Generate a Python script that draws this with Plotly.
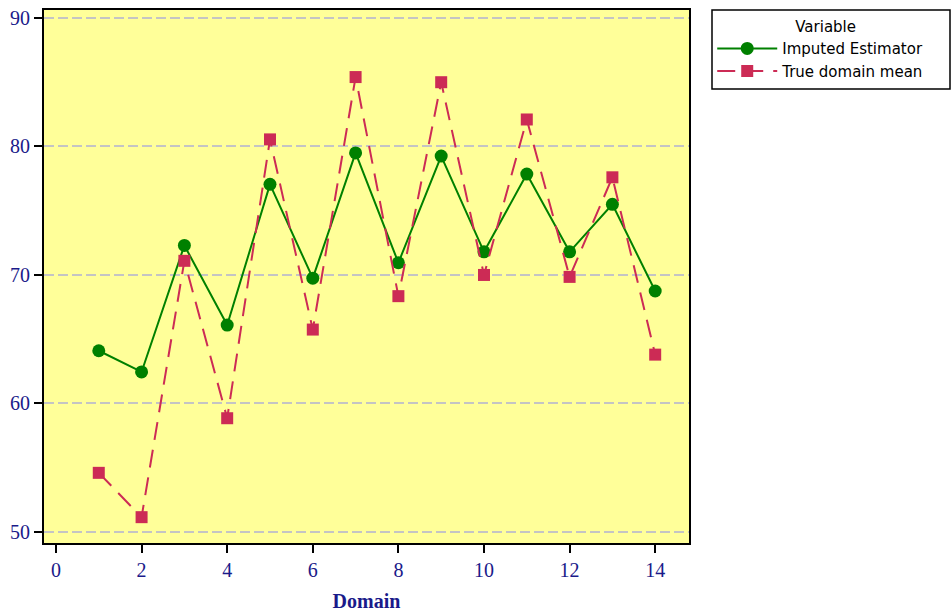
import plotly.graph_objects as go

domains = list(range(1, 15))
imputed = [64.1, 62.45, 72.3, 66.1, 77.05, 69.75, 79.5, 70.95, 79.25, 71.8, 77.85, 71.8, 75.5, 68.75]
true_mean = [54.6, 51.15, 71.1, 58.85, 80.55, 65.75, 85.4, 68.35, 85.0, 70.0, 82.1, 69.85, 77.6, 63.8]

navy = "#1a1a8a"
green = "#008000"
red = "#cc2b55"

fig = go.Figure()
fig.add_trace(go.Scatter(x=domains, y=imputed, mode="lines+markers", name="Imputed Estimator",
                         line=dict(color=green, width=2),
                         marker=dict(symbol="circle", size=13, color=green)))
fig.add_trace(go.Scatter(x=domains, y=true_mean, mode="lines+markers", name="True domain mean",
                         line=dict(color=red, width=2, dash="18px,10px"),
                         marker=dict(symbol="square", size=12, color=red)))

# legend frame
fig.add_shape(type="rect", xref="paper", yref="paper",
              x0=(712 - 44) / 645, x1=(950 - 44) / 645, y0=(543 - 89) / 533, y1=1.0,
              line=dict(color="black", width=1.5), fillcolor="white", layer="below")

fig.update_layout(
    width=951, height=612,
    margin=dict(l=44, r=262, t=10, b=69, autoexpand=False),
    paper_bgcolor="white",
    plot_bgcolor="#ffff99",
    legend=dict(
        x=1.036, y=0.995, xanchor="left", yanchor="top",
        borderwidth=0,
        bgcolor="rgba(0,0,0,0)",
        font=dict(family="DejaVu Sans", size=15, color="black"),
        title=dict(text="&nbsp;" * 17 + "Variable", font=dict(family="DejaVu Sans", size=15, color="black")),
        tracegroupgap=0,
        itemwidth=60,
    ),
    xaxis=dict(
        range=[-0.28, 14.79], tickmode="array", tickvals=list(range(0, 15, 2)),
        ticks="outside", ticklen=8, tickwidth=2, tickcolor="black",
        showline=True, linecolor="black", linewidth=2, mirror=True,
        showgrid=False, zeroline=False, automargin=False,
        tickfont=dict(family="Liberation Serif", size=20, color=navy),
        title=dict(text="<b>Domain</b>", font=dict(family="Liberation Serif", size=20, color=navy), standoff=14),
    ),
    yaxis=dict(
        range=[49.14, 90.62], tickmode="array", tickvals=[50, 60, 70, 80, 90],
        ticks="outside", ticklen=8, tickwidth=2, tickcolor="black",
        showline=True, linecolor="black", linewidth=2, mirror=True,
        showgrid=True, gridcolor="#c4c4c4", griddash="10px,4px", gridwidth=2,
        zeroline=False, automargin=False,
        tickfont=dict(family="Liberation Serif", size=20, color=navy),
    ),
)

fig.write_html("out.html")
